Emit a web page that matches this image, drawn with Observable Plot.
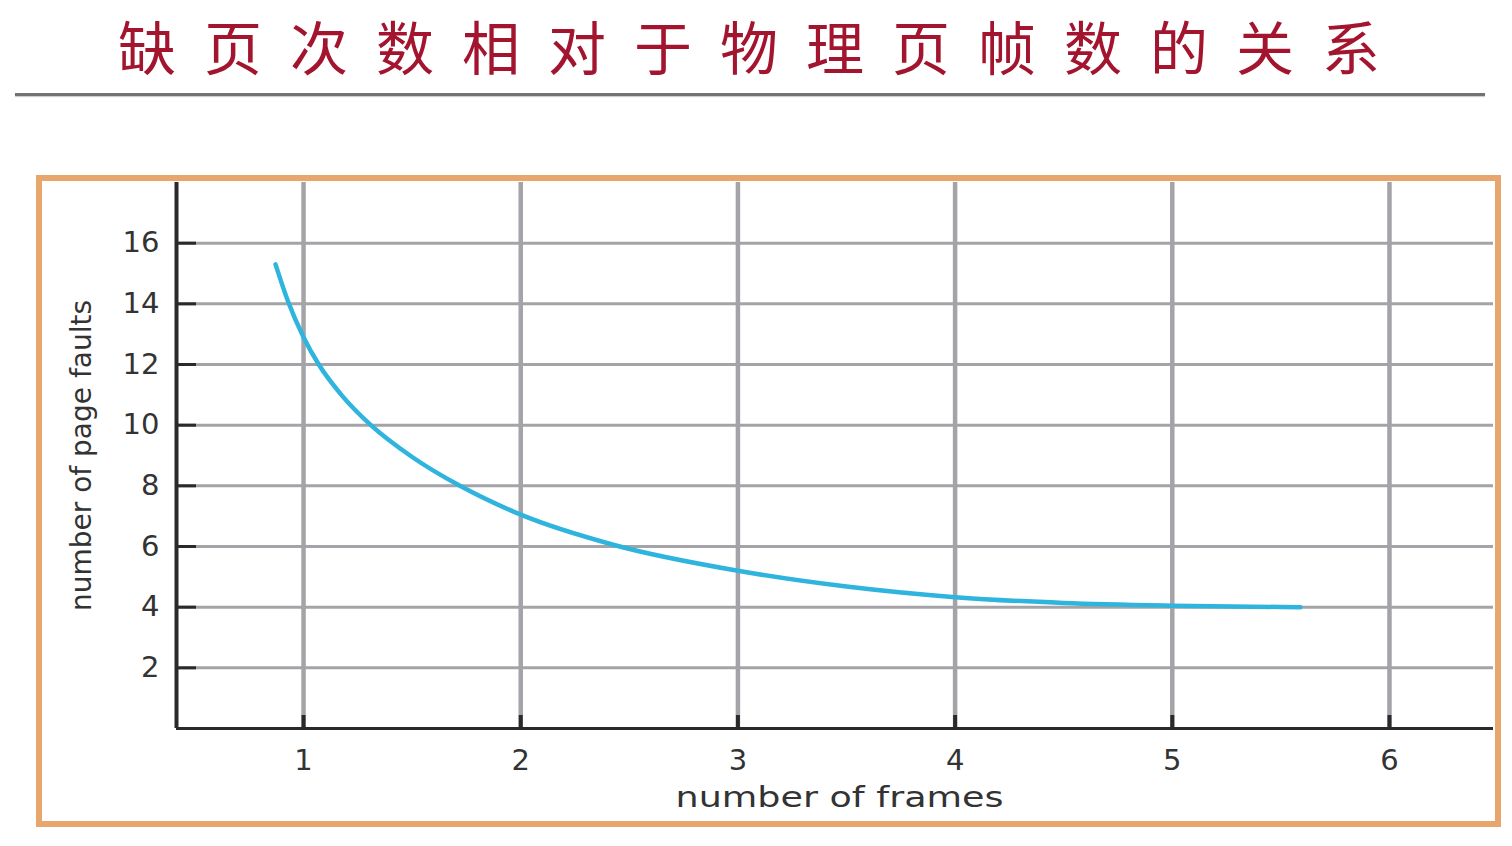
<!DOCTYPE html>
<html><head><meta charset="utf-8">
<script src="https://cdn.jsdelivr.net/npm/d3@7"></script>
<script src="https://cdn.jsdelivr.net/npm/@observablehq/plot@0.6"></script>
<style>
html,body{margin:0;padding:0;background:#fff;width:1512px;height:846px;overflow:hidden;}
#title{position:absolute;left:0;width:1512px;top:16px;text-align:center;font-family:"Noto Sans CJK SC";font-size:58px;line-height:58px;color:#a3142e;letter-spacing:28px;padding-left:14px;box-sizing:border-box;white-space:nowrap;}
#rule{position:absolute;left:15px;top:93px;width:1470px;height:3px;background:#727272;box-shadow:0 1px 1px #c8c8c8;}
#box{position:absolute;left:36px;top:175px;width:1453px;height:640px;border:6px solid #e8a66c;pointer-events:none;}
#chart{position:absolute;left:0;top:110px;}
</style>
</head>
<body>
<div id="title">缺页次数相对于物理页帧数的关系</div>
<div id="rule"></div>
<div id="chart"></div>
<div id="box"></div>
<script>
// data
const frames = [0.871, 0.93, 1.0, 1.07, 1.18, 1.31, 1.5, 1.72, 2.0, 2.43, 3.0, 3.5, 4.0, 4.5, 5.0, 5.59];
const faults = [15.3, 14.05, 12.9, 12.0, 10.95, 10.0, 8.95, 8.0, 7.05, 6.05, 5.2, 4.68, 4.33, 4.14, 4.05, 4.0];
const xTicks = [1, 2, 3, 4, 5, 6];
const yTicks = [2, 4, 6, 8, 10, 12, 14, 16];
const xDomain = [0.415, 6.479];
const yDomain = [0, 18];
const xLabel = "number of frames";
const yLabel = "number of page faults";

const data = frames.map((f, i) => ({frames: f, faults: faults[i]}));

const W = 1512, H = 736, mL = 176, mR = 19, mT = 72, mB = 118;
const plotW = W - mL - mR, plotH = H - mT - mB;
const ink = "#2a2a2a", grid = "#a4a4a8";

const chart = Plot.plot({
  width: W, height: H,
  marginLeft: mL, marginRight: mR, marginTop: mT, marginBottom: mB,
  style: {background: "transparent", fontFamily: "DejaVu Sans", color: "#333"},
  x: {domain: xDomain},
  y: {domain: yDomain},
  marks: [
    Plot.ruleY(yTicks, {stroke: grid, strokeWidth: 3}),
    Plot.ruleX(xTicks, {stroke: grid, strokeWidth: 4.5}),
    Plot.tickX(xTicks, {x: d => d, insetTop: plotH - 13, stroke: ink, strokeWidth: 4}),
    Plot.tickY(yTicks, {y: d => d, insetRight: plotW - 20, stroke: ink, strokeWidth: 3}),
    Plot.ruleX([xDomain[0]], {stroke: ink, strokeWidth: 4}),
    Plot.ruleY([0], {stroke: ink, strokeWidth: 3}),
    Plot.axisX({ticks: xTicks, tickSize: 0, tickPadding: 21, fontSize: 29, label: null, tickFormat: d => String(d)}),
    Plot.axisY({ticks: yTicks, tickSize: 0, tickPadding: 17, fontSize: 29, label: null, tickFormat: d => String(d)}),
    Plot.text([xLabel], {text: d => d, frameAnchor: "bottom", dy: 78, dx: 4.5, fontSize: 28, fill: "#333", textAnchor: "middle"}),
    Plot.text([yLabel], {text: d => d, frameAnchor: "left", dx: -94, rotate: -90, fontSize: 28, fill: "#333", textAnchor: "middle"}),
    Plot.line(data, {x: "frames", y: "faults", curve: "monotone-x", stroke: "#2fb4dd", strokeWidth: 4.5})
  ]
});
// widen the x-axis title like the (horizontally stretched) reference
d3.select(chart).selectAll("text")
  .filter(function () { return this.textContent === xLabel; })
  .attr("textLength", 328)
  .attr("lengthAdjust", "spacingAndGlyphs");
document.getElementById("chart").appendChild(chart);
</script>
</body></html>
